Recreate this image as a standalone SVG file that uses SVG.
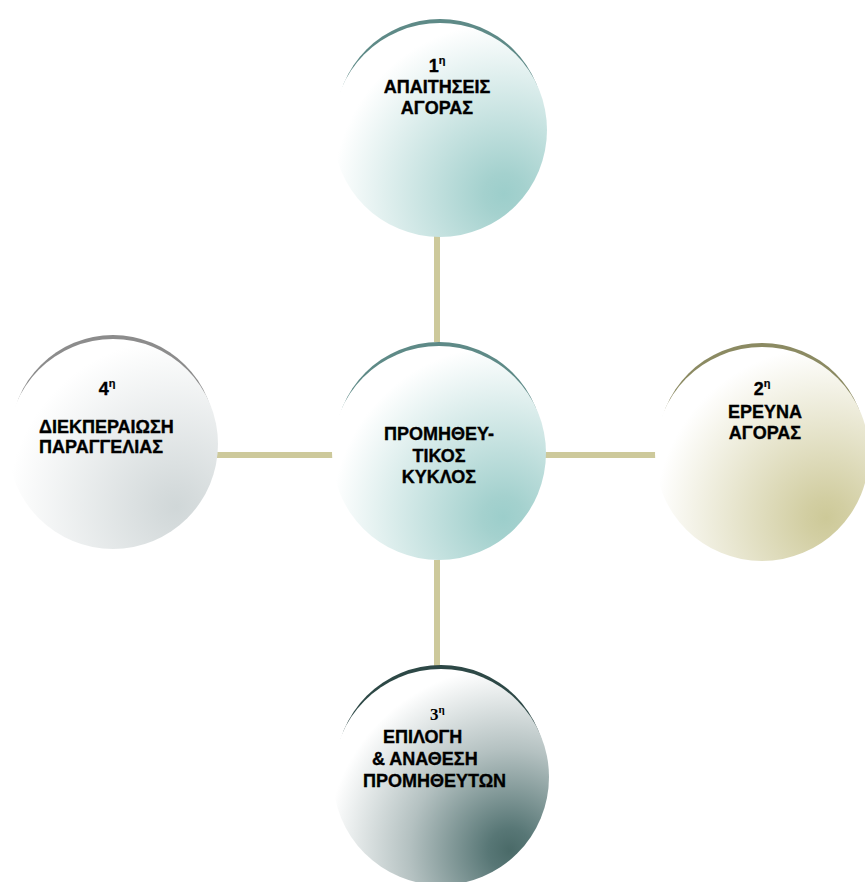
<svg xmlns="http://www.w3.org/2000/svg" width="865" height="882" viewBox="0 0 865 882">
<defs>
<radialGradient id="gTeal" cx="0.8" cy="0.8" r="0.8"><stop offset="0" stop-color="#9ccecb"/><stop offset="0.12" stop-color="#a4d1ce"/><stop offset="1" stop-color="#ffffff"/></radialGradient>
<radialGradient id="gGray" cx="0.8" cy="0.8" r="0.8"><stop offset="0" stop-color="#d0d7d8"/><stop offset="0.12" stop-color="#d5dbdc"/><stop offset="1" stop-color="#ffffff"/></radialGradient>
<radialGradient id="gKhaki" cx="0.8" cy="0.8" r="0.8"><stop offset="0" stop-color="#cdc998"/><stop offset="0.12" stop-color="#d2cea2"/><stop offset="1" stop-color="#ffffff"/></radialGradient>
<radialGradient id="gSlate" cx="0.82" cy="0.84" r="0.85"><stop offset="0" stop-color="#4a6a68"/><stop offset="0.12" stop-color="#587776"/><stop offset="0.55" stop-color="#b4c1c1"/><stop offset="1" stop-color="#ffffff"/></radialGradient>
</defs>
<style>
.t{font-family:"Liberation Sans",Arial,sans-serif;font-weight:bold;font-size:18px;fill:#000;stroke:#000;stroke-width:0.35;text-anchor:middle}
.l{text-anchor:start}
.s{font-size:11px;stroke-width:0.2}
.c{stroke:#cdc99b;stroke-width:6;fill:none}
</style>
<g id="connectors">
<line class="c" x1="437" y1="235" x2="437" y2="342"/>
<line class="c" x1="437" y1="560" x2="437" y2="670"/>
<line class="c" x1="215" y1="455" x2="333" y2="455"/>
<line class="c" x1="545" y1="455" x2="656" y2="455"/>
</g>
<g id="n1">
<circle cx="440" cy="123" r="104" fill="#5e8a87"/>
<circle cx="440" cy="130" r="107" fill="url(#gTeal)"/>
<text class="t" x="437" y="72">1<tspan class="s" dy="-8">η</tspan></text>
<text class="t" x="437" y="93">ΑΠΑΙΤΗΣΕΙΣ</text>
<text class="t" x="437" y="114">ΑΓΟΡΑΣ</text>
</g>
<g id="n0">
<circle cx="439" cy="446" r="104" fill="#5e8a87"/>
<circle cx="439" cy="453" r="107" fill="url(#gTeal)"/>
<text class="t" x="439" y="440">ΠΡΟΜΗΘΕΥ-</text>
<text class="t" x="439" y="462">ΤΙΚΟΣ</text>
<text class="t" x="439" y="483">ΚΥΚΛΟΣ</text>
</g>
<g id="n4">
<circle cx="113" cy="437" r="102" fill="#8c8c8c"/>
<circle cx="113" cy="444" r="105" fill="url(#gGray)"/>
<text class="t" x="107" y="395">4<tspan class="s" dy="-8">η</tspan></text>
<text class="t l" x="39" y="433">ΔΙΕΚΠΕΡΑΙΩΣΗ</text>
<text class="t l" x="39" y="453">ΠΑΡΑΓΓΕΛΙΑΣ</text>
</g>
<g id="n2">
<circle cx="762" cy="447" r="104" fill="#8b8a62"/>
<circle cx="762" cy="454" r="107" fill="url(#gKhaki)"/>
<text class="t" x="762" y="395">2<tspan class="s" dy="-8">η</tspan></text>
<text class="t" x="765" y="418">ΕΡΕΥΝΑ</text>
<text class="t" x="765" y="439">ΑΓΟΡΑΣ</text>
</g>
<g id="n3">
<circle cx="441" cy="770" r="105" fill="#2d4846"/>
<circle cx="441" cy="777" r="108" fill="url(#gSlate)"/>
<text x="430" y="720" style="font-family:'Liberation Serif','Times New Roman',serif;font-weight:bold;font-size:17px">3<tspan style="font-size:11px" dy="-7">η</tspan></text>
<text class="t l" x="383" y="743">ΕΠΙΛΟΓΗ</text>
<text class="t l" x="372" y="765">&amp; ΑΝΑΘΕΣΗ</text>
<text class="t l" x="363" y="787">ΠΡΟΜΗΘΕΥΤΩΝ</text>
</g>
</svg>
